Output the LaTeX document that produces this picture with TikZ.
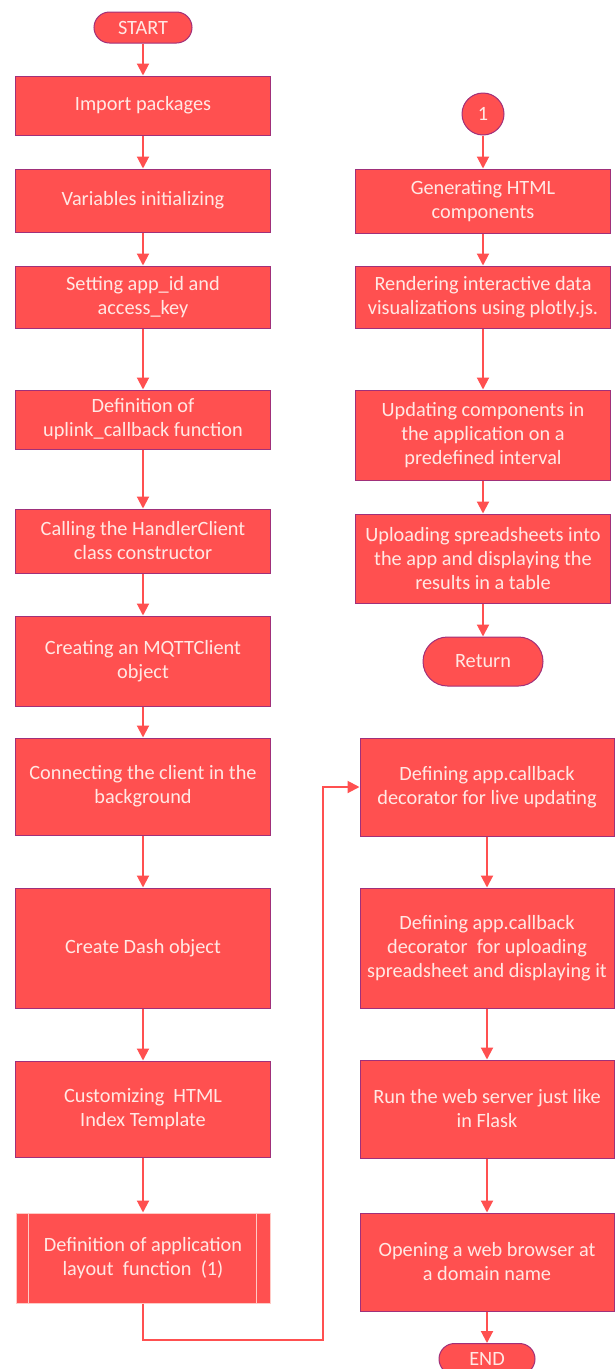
\documentclass[tikz,border=0pt]{standalone}
\usepackage{fontspec}
\setmainfont{Carlito}
\usetikzlibrary{arrows.meta,shapes.misc}
\definecolor{boxfill}{HTML}{FF5050}
\definecolor{boxedge}{HTML}{A0307A}
\definecolor{boxtext}{HTML}{FFE8E4}
\definecolor{lineclr}{HTML}{FF5050}
\tikzset{
  base/.style={fill=boxfill, draw=boxedge, line width=1pt, text=boxtext, align=center,
    font=\fontsize{20.3}{24}\selectfont, inner sep=1pt},
  proc/.style={base, rectangle, minimum width=255pt},
  term/.style={base, rounded rectangle, inner sep=0pt},
  conn/.style={base, circle, minimum size=42pt, inner sep=0pt},
  predef/.style={base, rectangle, draw=boxtext!80!boxfill, minimum width=254pt},
  arr/.style={draw=lineclr, line width=2pt, -{Triangle[length=12pt,width=12pt]}}
}
\begin{document}
\begin{tikzpicture}[x=1pt,y=-1pt]
\useasboundingbox (0,0) rectangle (614,1369);
% left column
\node[term, minimum width=98pt, minimum height=31pt] (start) at (143,27.5) {START};
\node[proc, minimum height=59pt] (n1) at (143,105.5) {Import packages};
\node[proc, minimum height=63pt] (n2) at (143,200.5) {Variables initializing};
\node[proc, minimum height=62pt] (n3) at (143,297) {Setting app\_id and\\access\_key};
\node[proc, minimum height=59pt] (n4) at (143,419.5) {Definition of\\uplink\_callback function};
\node[proc, minimum height=64pt] (n5) at (143,541) {Calling the HandlerClient\\class constructor};
\node[proc, minimum height=90pt] (n6) at (143,661) {Creating an MQTTClient\\object};
\node[proc, minimum height=97pt] (n7) at (143,786.5) {Connecting the client in the\\background};
\node[proc, minimum height=120pt] (n8) at (143,948) {Create Dash object};
\node[proc, minimum height=96pt] (n9) at (143,1109) {Customizing\ \ HTML\\Index Template};
\node[predef, minimum height=90pt] (n10) at (143,1258) {Definition of application\\layout\ \ function\ \ (1)};
\draw[boxtext!80!boxfill, line width=1pt] ([xshift=13pt]n10.north west) -- ([xshift=13pt]n10.south west);
\draw[boxtext!80!boxfill, line width=1pt] ([xshift=-14pt]n10.north east) -- ([xshift=-14pt]n10.south east);
% right column
\node[conn] (c1) at (483,114) {1};
\node[proc, minimum height=64pt] (r1) at (483,201) {Generating HTML\\components};
\node[proc, minimum height=62pt] (r2) at (483,297) {Rendering interactive data\\visualizations using plotly.js.};
\node[proc, minimum height=90pt] (r3) at (483,435) {Updating components in\\the application on a\\predefined interval};
\node[proc, minimum height=89pt] (r4) at (483,558.5) {Uploading spreadsheets into\\the app and displaying the\\results in a table};
\node[term, minimum width=120pt, minimum height=49pt] (ret) at (483,661.5) {Return};
\node[proc, minimum width=254pt, minimum height=98pt] (r5) at (487,787) {Defining app.callback\\decorator for live updating};
\node[proc, minimum width=254pt, minimum height=120pt] (r6) at (487,948) {Defining app.callback\\decorator\ \ for uploading\\spreadsheet and displaying it};
\node[proc, minimum width=254pt, minimum height=98pt] (r7) at (487,1109) {Run the web server just like\\in Flask};
\node[proc, minimum width=254pt, minimum height=98pt] (r8) at (487,1262) {Opening a web browser at\\a domain name};
\node[term, minimum width=96pt, minimum height=31pt] (end) at (487,1359) {END};
% connectors
\draw[arr] (start) -- (n1);
\draw[arr] (n1) -- (n2);
\draw[arr] (n2) -- (n3);
\draw[arr] (n3) -- (n4);
\draw[arr] (n4) -- (n5);
\draw[arr] (n5) -- (n6);
\draw[arr] (n6) -- (n7);
\draw[arr] (n7) -- (n8);
\draw[arr] (n8) -- (n9);
\draw[arr] (n9) -- (n10);
\coordinate (b1) at (143,1340);
\coordinate (b2) at (323,1340);
\coordinate (b3) at (323,787);
\draw[arr] (n10.south) -- (b1) -- (b2) -- (b3) -- (r5.west);
\draw[arr] (c1) -- (r1);
\draw[arr] (r1) -- (r2);
\draw[arr] (r2) -- (r3);
\draw[arr] (r3) -- (r4);
\draw[arr] (r4) -- (ret);
\draw[arr] (r5) -- (r6);
\draw[arr] (r6) -- (r7);
\draw[arr] (r7) -- (r8);
\draw[arr] (r8) -- (end);
\end{tikzpicture}
\end{document}
